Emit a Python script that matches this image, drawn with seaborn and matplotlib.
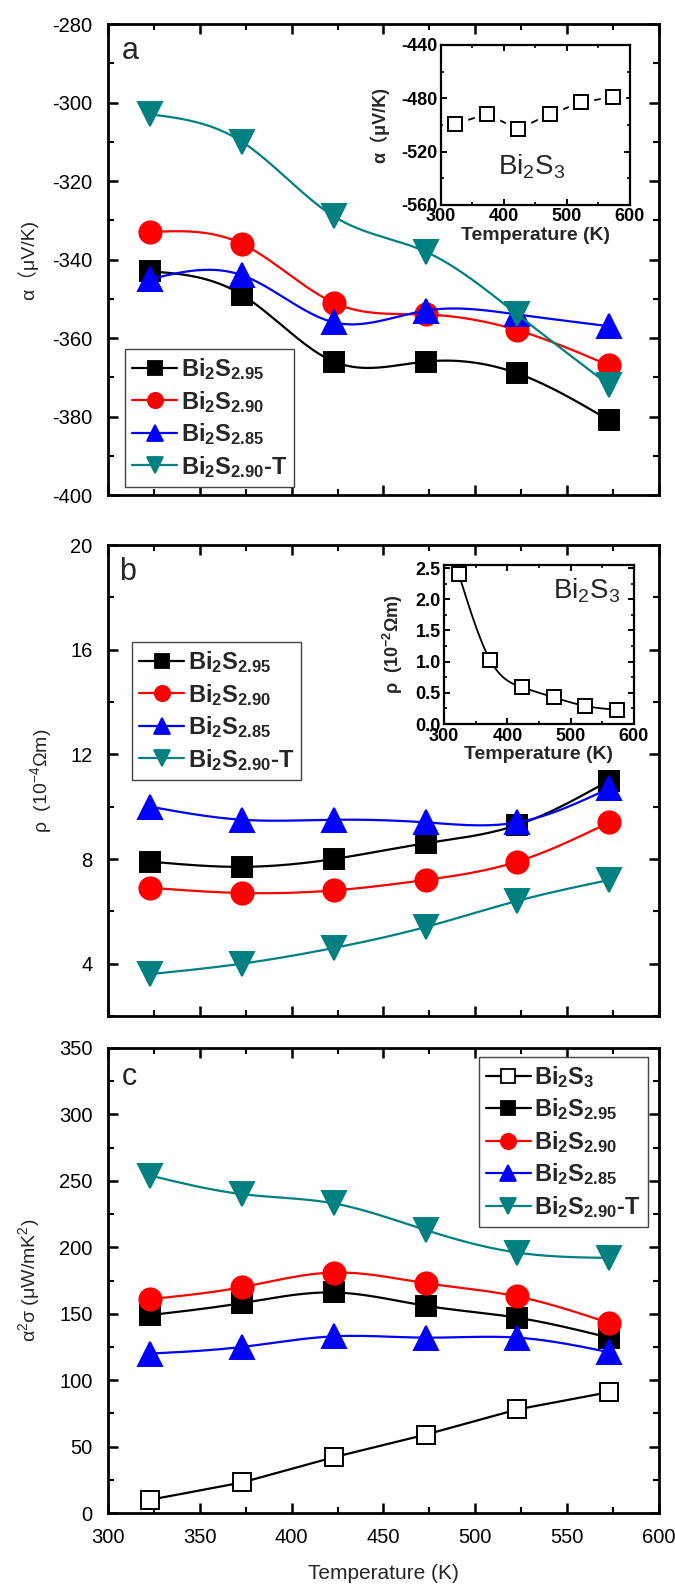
import numpy as np
import pandas as pd
import seaborn as sns
import matplotlib
matplotlib.use("Agg")
import matplotlib.pyplot as plt
from matplotlib.lines import Line2D
from matplotlib.ticker import MultipleLocator

# ---------------- data ----------------
temperature = [323, 373, 423, 473, 523, 573]

labels = [r"Bi$_\mathbf{2}$S$_\mathbf{3}$", r"Bi$_\mathbf{2}$S$_\mathbf{2.95}$",
          r"Bi$_\mathbf{2}$S$_\mathbf{2.90}$", r"Bi$_\mathbf{2}$S$_\mathbf{2.85}$",
          r"Bi$_\mathbf{2}$S$_\mathbf{2.90}$-T"]
inset_label = r"Bi$_2$S$_3$"

seebeck_295 = [-343, -349, -366, -366, -369, -381]
seebeck_290 = [-333, -336, -351, -354, -358, -367]
seebeck_285 = [-345, -344, -356, -353, -354, -357]
seebeck_290T = [-303, -310, -329, -338, -354, -372]
seebeck_bi2s3 = [-499, -492, -503, -492, -483, -479]

rho_295 = [7.9, 7.7, 8.0, 8.6, 9.3, 11.0]
rho_290 = [6.9, 6.7, 6.8, 7.2, 7.9, 9.4]
rho_285 = [10.0, 9.5, 9.5, 9.4, 9.4, 10.7]
rho_290T = [3.6, 4.0, 4.6, 5.4, 6.4, 7.2]
rho_bi2s3 = [2.41, 1.02, 0.59, 0.43, 0.29, 0.23]

pf_bi2s3 = [10, 23, 42, 59, 78, 91]
pf_295 = [149, 158, 166, 156, 147, 132]
pf_290 = [161, 170, 181, 173, 163, 143]
pf_285 = [120, 125, 133, 132, 132, 121]
pf_290T = [254, 240, 233, 213, 196, 192]

# ---------------- style ----------------
sns.set_theme(style="ticks")
plt.rcParams["font.family"] = ["Liberation Sans", "Noto Sans CJK SC", "DejaVu Sans"]
plt.rcParams["mathtext.fontset"] = "custom"
plt.rcParams["mathtext.rm"] = "Liberation Sans"
plt.rcParams["mathtext.it"] = "Liberation Sans:italic"
plt.rcParams["mathtext.bf"] = "Liberation Sans:bold"
plt.rcParams["mathtext.default"] = "regular"
plt.rcParams["axes.unicode_minus"] = False

BLACK, RED, BLUE, TEAL = "#000000", "#FF0000", "#0000FF", "#008080"
styles = {
    "bi2s3": dict(color=BLACK, marker="s", mfc="white", ms=13),
    "295": dict(color=BLACK, marker="s", mfc=BLACK, ms=14.5),
    "290": dict(color=RED, marker="o", mfc=RED, ms=16),
    "285": dict(color=BLUE, marker="^", mfc=BLUE, ms=17),
    "290T": dict(color=TEAL, marker="v", mfc=TEAL, ms=17),
}


def smooth_path(x, y, per=40):
    """Natural cubic spline used only to draw the connecting line."""
    x = np.asarray(x, float)
    y = np.asarray(y, float)
    n = len(x)
    h = np.diff(x)
    A = np.zeros((n, n))
    r = np.zeros(n)
    A[0, 0] = A[-1, -1] = 1
    for i in range(1, n - 1):
        A[i, i - 1] = h[i - 1]
        A[i, i] = 2 * (h[i - 1] + h[i])
        A[i, i + 1] = h[i]
        r[i] = 3 * ((y[i + 1] - y[i]) / h[i] - (y[i] - y[i - 1]) / h[i - 1])
    c = np.linalg.solve(A, r)
    b = (y[1:] - y[:-1]) / h - h * (2 * c[:-1] + c[1:]) / 3
    d = (c[1:] - c[:-1]) / (3 * h)
    xs, ys = [], []
    for i in range(n - 1):
        t = np.linspace(0, h[i], per, endpoint=(i == n - 2))
        xs.append(x[i] + t)
        ys.append(y[i] + b[i] * t + c[i] * t ** 2 + d[i] * t ** 3)
    return np.concatenate(xs), np.concatenate(ys)


def draw(ax, x, y, key, z, smooth=True, lw=1.6, ms=None, gap=False):
    st = styles[key]
    msz = ms if ms is not None else st["ms"]
    if smooth:
        xs, ys = smooth_path(x, y)
    else:
        xs, ys = np.asarray(x, float), np.asarray(y, float)
    df = pd.DataFrame({"T": xs, "v": ys})
    sns.lineplot(data=df, x="T", y="v", ax=ax, color=st["color"], lw=lw,
                 sort=False, estimator=None, legend=False, zorder=z)
    if gap:
        ax.plot(x, y, ls="none", marker=st["marker"], ms=msz + 7, mfc="white",
                mec="white", zorder=z + 0.5)
    ax.plot(x, y, ls="none", marker=st["marker"], ms=msz, mfc=st["mfc"],
            mec=st["color"], mew=1.4, zorder=z + 1)


def style_main(ax):
    for s in ax.spines.values():
        s.set_linewidth(2.0)
        s.set_color("black")
    ax.tick_params(which="both", direction="in", top=True, right=True,
                   bottom=True, left=True, colors="black")
    ax.tick_params(which="major", length=7, width=1.8, labelsize=14.5, pad=11)
    ax.tick_params(which="minor", length=4, width=1.5)
    ax.set_xlim(300, 600)
    ax.xaxis.set_major_locator(MultipleLocator(50))
    ax.xaxis.set_minor_locator(MultipleLocator(25))
    ax.set_facecolor("white")
    ax.grid(False)


def style_inset(ax):
    for s in ax.spines.values():
        s.set_linewidth(1.6)
        s.set_color("black")
    ax.tick_params(which="both", direction="in", top=True, right=True,
                   colors="black")
    ax.tick_params(which="major", length=4.5, width=1.4, labelsize=13, pad=2.5)
    ax.tick_params(which="minor", length=2.5, width=1.2)
    ax.set_xlim(300, 600)
    ax.xaxis.set_major_locator(MultipleLocator(100))
    ax.xaxis.set_minor_locator(MultipleLocator(50))
    ax.set_facecolor("white")
    ax.grid(False)


def bold_ticks(ax):
    for t in ax.get_xticklabels() + ax.get_yticklabels():
        t.set_fontweight("bold")


def handles_for(keys):
    hs = []
    for k in keys:
        st = styles[k]
        hs.append(Line2D([0], [0], color=st["color"], lw=1.6, marker=st["marker"],
                         ms=11 if k in ("285", "290T", "290") else 10,
                         mfc=st["mfc"], mec=st["color"], mew=1.3))
    return hs


def add_legend(ax, keys, labs, loc, anchor):
    leg = ax.legend(handles_for(keys), labs, loc=loc, bbox_to_anchor=anchor,
                    borderaxespad=0, prop={"size": 17, "weight": "bold"},
                    frameon=True, fancybox=False,
                    edgecolor="#444444", framealpha=1, handlelength=1.9,
                    handletextpad=0.15, labelspacing=0.28, borderpad=0.3)
    leg.get_frame().set_linewidth(1.0)
    leg.set_zorder(20)
    return leg


fig = plt.figure(figsize=(6.75, 15.84), dpi=100)
fig.patch.set_facecolor("white")

L, W = 0.16, 0.816
axA = fig.add_axes([L, 0.6875, W, 0.2973])
axB = fig.add_axes([L, 0.3586, W, 0.2973])
axC = fig.add_axes([L, 0.0448, W, 0.2936])

# ---------------- panel a ----------------
style_main(axA)
draw(axA, temperature, seebeck_295, "295", 2)
draw(axA, temperature, seebeck_290, "290", 4)
draw(axA, temperature, seebeck_285, "285", 6)
draw(axA, temperature, seebeck_290T, "290T", 8)
axA.set_ylim(-400, -280)
axA.yaxis.set_major_locator(MultipleLocator(20))
axA.yaxis.set_minor_locator(MultipleLocator(10))
axA.tick_params(labelbottom=False)
axA.set_xlabel("")
axA.set_ylabel("α（μV/K)", fontsize=14)
axA.yaxis.set_label_coords(-0.127, 0.5)
axA.text(0.025, 0.975, "a", transform=axA.transAxes, fontsize=22, va="top", ha="left")
add_legend(axA, ["295", "290", "285", "290T"], labels[1:], "upper left", (0.031, 0.31))

insA = fig.add_axes([0.653, 0.8706, 0.280, 0.101])
style_inset(insA)
draw(insA, temperature, seebeck_bi2s3, "bi2s3", 2, smooth=False, lw=1.3, ms=10, gap=True)
insA.set_ylim(-560, -440)
insA.yaxis.set_major_locator(MultipleLocator(40))
insA.yaxis.set_minor_locator(MultipleLocator(20))
insA.set_xlabel("Temperature (K)", fontsize=14, fontweight="bold", labelpad=1)
insA.set_ylabel("α（μV/K)", fontsize=13, fontweight="bold")
insA.yaxis.set_label_coords(-0.27, 0.5)
insA.text(0.48, 0.24, inset_label, transform=insA.transAxes, fontsize=20,
          ha="center", va="center")
bold_ticks(insA)

# ---------------- panel b ----------------
style_main(axB)
draw(axB, temperature, rho_295, "295", 2)
draw(axB, temperature, rho_290, "290", 4)
draw(axB, temperature, rho_285, "285", 6)
draw(axB, temperature, rho_290T, "290T", 8)
axB.set_ylim(2, 20)
axB.yaxis.set_major_locator(MultipleLocator(4))
axB.yaxis.set_minor_locator(MultipleLocator(2))
axB.tick_params(labelbottom=False)
axB.set_xlabel("")
axB.set_ylabel(r"ρ  (10$^{-4}$Ωm)", fontsize=14)
axB.yaxis.set_label_coords(-0.098, 0.5)
axB.text(0.02, 0.975, "b", transform=axB.transAxes, fontsize=22, va="top", ha="left")
add_legend(axB, ["295", "290", "285", "290T"], labels[1:], "upper left", (0.044, 0.794))

insB = fig.add_axes([0.658, 0.5429, 0.281, 0.1004])
style_inset(insB)
draw(insB, temperature, rho_bi2s3, "bi2s3", 2, smooth=True, lw=1.3, ms=10)
insB.set_ylim(0, 2.55)
insB.yaxis.set_major_locator(MultipleLocator(0.5))
insB.yaxis.set_minor_locator(MultipleLocator(0.25))
insB.set_xlabel("Temperature (K)", fontsize=14, fontweight="bold", labelpad=1)
insB.set_ylabel(r"ρ  (10$^{\mathbf{-2}}$Ωm)", fontsize=13, fontweight="bold")
insB.yaxis.set_label_coords(-0.205, 0.5)
insB.text(0.75, 0.84, inset_label, transform=insB.transAxes, fontsize=20,
          ha="center", va="center")
bold_ticks(insB)

# ---------------- panel c ----------------
style_main(axC)
draw(axC, temperature, pf_bi2s3, "bi2s3", 2, smooth=False, lw=1.6)
draw(axC, temperature, pf_295, "295", 4)
draw(axC, temperature, pf_290, "290", 6)
draw(axC, temperature, pf_285, "285", 8)
draw(axC, temperature, pf_290T, "290T", 10)
axC.set_ylim(0, 350)
axC.yaxis.set_major_locator(MultipleLocator(50))
axC.yaxis.set_minor_locator(MultipleLocator(25))
axC.set_xlabel("Temperature (K)", fontsize=15, labelpad=12)
axC.set_ylabel(r"α$^2$σ (μW/mK$^2$)", fontsize=14)
axC.yaxis.set_label_coords(-0.12, 0.5)
axC.text(0.025, 0.97, "c", transform=axC.transAxes, fontsize=22, va="top", ha="left")
add_legend(axC, ["bi2s3", "295", "290", "285", "290T"], labels, "upper right", (0.98, 0.981))

fig.savefig("out.png", dpi=100, facecolor="white")
